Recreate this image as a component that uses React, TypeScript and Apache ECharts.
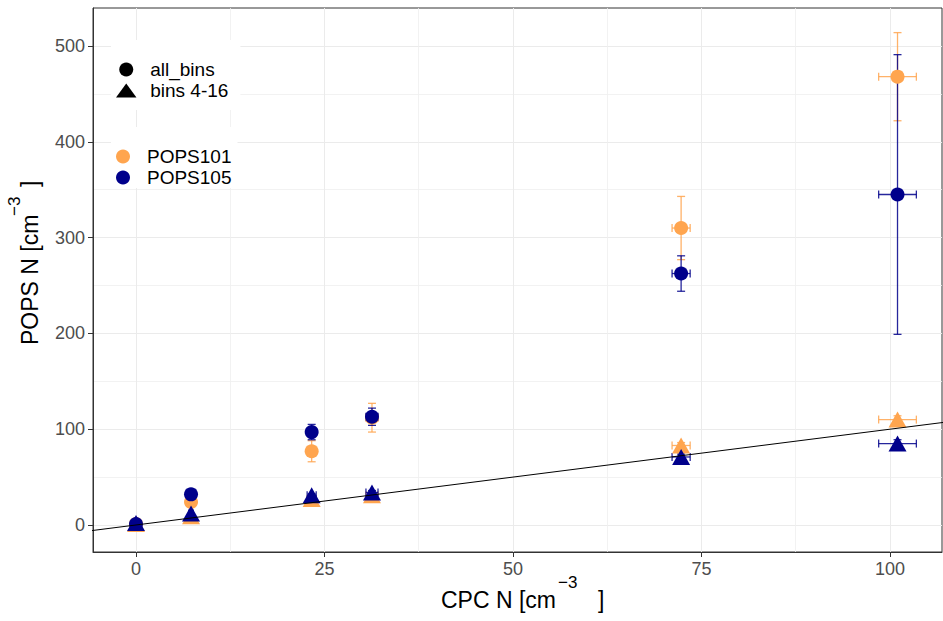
import React, { useEffect, useRef } from "react";
import * as echarts from "echarts";

// ---- data ----
const cpcN = [0, 7.3, 23.3, 31.3, 72.3, 101];
const cpcErr = [0.2, 0.3, 0.6, 0.8, 1.2, 2.5];
const pops101All = [1, 24, 77, 112, 310, 468];
const pops101AllErr = [0.5, 2, 11, 15, 33, 46];
const pops105All = [1, 32, 97, 113, 262.5, 345];
const pops105AllErr = [0.5, 3, 8, 9, 18.5, 146];
const pops101Bins = [1, 9, 27, 31, 83, 110];
const pops101BinsErr = [0.3, 0.8, 1.5, 2, 3, 4];
const pops105Bins = [2, 12, 31, 34, 71, 85];
const pops105BinsErr = [0.3, 0.8, 1.5, 2, 3, 4];
const oneToOne = [-10, 120];
const xMajor = [0, 25, 50, 75, 100];
const xMinor = [12.5, 37.5, 62.5, 87.5];
const yMajor = [0, 100, 200, 300, 400, 500];
const yMinor = [50, 150, 250, 350, 450];
const legendShapes = ["all_bins", "bins 4-16"];
const legendInstruments = ["POPS101", "POPS105"];
const xTitle = ["CPC N [cm", "−3", "]"];
const yTitle = ["POPS N [cm", "−3", "]"];

const X_MIN = -5.7;
const X_MAX = 106.9;
const Y_MIN = -28.2;
const Y_MAX = 539.7;

const ORANGE = "#FFA54F";
const NAVY = "#00008B";
const FONT = "'Liberation Sans', Arial, Helvetica, sans-serif";

function errorBars(name: string, ys: number[], yErr: number[], color: string, opacity: number) {
  return {
    type: "custom",
    name,
    xAxisIndex: 1,
    yAxisIndex: 1,
    clip: true,
    silent: true,
    data: cpcN.map((x, i) => [x, ys[i], cpcErr[i], yErr[i]]),
    renderItem: (params: any, api: any) => {
      const x = api.value(0);
      const y = api.value(1);
      const ex = api.value(2);
      const ey = api.value(3);
      const top = api.coord([x, y + ey]);
      const bot = api.coord([x, y - ey]);
      const l = api.coord([x - ex, y]);
      const r = api.coord([x + ex, y]);
      const cap = 4;
      const style = { stroke: color, lineWidth: 1.3, opacity };
      const children: any[] = [];
      if (bot[1] - top[1] > 2) {
        children.push({ type: "line", shape: { x1: top[0], y1: top[1], x2: bot[0], y2: bot[1] }, style });
        children.push({ type: "line", shape: { x1: top[0] - cap, y1: top[1], x2: top[0] + cap, y2: top[1] }, style });
        children.push({ type: "line", shape: { x1: bot[0] - cap, y1: bot[1], x2: bot[0] + cap, y2: bot[1] }, style });
      }
      if (r[0] - l[0] > 2) {
        children.push({ type: "line", shape: { x1: l[0], y1: l[1], x2: r[0], y2: r[1] }, style });
        children.push({ type: "line", shape: { x1: l[0], y1: l[1] - cap, x2: l[0], y2: l[1] + cap }, style });
        children.push({ type: "line", shape: { x1: r[0], y1: r[1] - cap, x2: r[0], y2: r[1] + cap }, style });
      }
      return { type: "group", children };
    },
  };
}

function points(name: string, ys: number[], symbol: string, size: any, color: string) {
  return {
    type: "scatter",
    name,
    xAxisIndex: 1,
    yAxisIndex: 1,
    symbol,
    symbolSize: size,
    itemStyle: { color, opacity: 1 },
    emphasis: { disabled: true },
    data: cpcN.map((x, i) => [x, ys[i]]),
  };
}

const legendText = { fontSize: 19, color: "#000", fontFamily: FONT, lineHeight: 19 };

const legendCommon = {
  orient: "vertical",
  left: 111,
  itemWidth: 38,
  itemHeight: 14,
  itemGap: 2,
  backgroundColor: "#fff",
  selectedMode: false,
  symbolKeepAspect: true,
  textStyle: legendText,
};

function titleText(text: string, size: number, x: number, y: number, rotation = 0) {
  return {
    type: "text",
    x,
    y,
    rotation,
    silent: true,
    style: {
      text,
      fontSize: size,
      fontFamily: FONT,
      fill: "#000",
      textAlign: "left",
      textVerticalAlign: "middle",
    },
  };
}

export default function App() {
  const ref = useRef<HTMLDivElement>(null);
  useEffect(() => {
    if (!ref.current) return;
    const chart = echarts.init(ref.current, undefined, { renderer: "svg" });
    const R = Math.PI / 2;
    const option: any = {
      animation: false,
      backgroundColor: "#fff",
      grid: {
        left: 93,
        right: 1,
        top: 8,
        bottom: 69,
        show: true,
        borderColor: "#333333",
        borderWidth: 1,
        backgroundColor: "transparent",
        containLabel: false,
        outerBoundsMode: "none",
      },
      graphic: [
        titleText(xTitle[0], 23, 441, 600),
        titleText(xTitle[1], 17, 558, 582),
        titleText(xTitle[2], 23, 598, 600),
        titleText(yTitle[0], 23, 30, 345, R),
        titleText(yTitle[1], 17, 14, 216, R),
        titleText(yTitle[2], 23, 30, 187, R),
      ],
      xAxis: [
        {
          type: "value",
          min: X_MIN,
          max: X_MAX,
          position: "bottom",
          axisLine: { show: false },
          axisTick: { show: false, customValues: xMinor },
          axisLabel: { show: false, customValues: xMinor },
          splitLine: { show: true, lineStyle: { color: "#EFEFEF", width: 0.8 } },
        },
        {
          type: "value",
          min: X_MIN,
          max: X_MAX,
          position: "bottom",
          axisLine: { show: true, onZero: false, lineStyle: { color: "#333333", width: 1 } },
          axisTick: { show: true, length: 5, customValues: xMajor, lineStyle: { color: "#333333" } },
          axisLabel: { customValues: xMajor, margin: 8, fontSize: 18, color: "#4D4D4D", fontFamily: FONT },
          splitLine: { show: true, lineStyle: { color: "#EBEBEB", width: 1 } },
        },
      ],
      yAxis: [
        {
          type: "value",
          min: Y_MIN,
          max: Y_MAX,
          position: "left",
          axisLine: { show: false },
          axisTick: { show: false, customValues: yMinor },
          axisLabel: { show: false, customValues: yMinor },
          splitLine: { show: true, lineStyle: { color: "#EFEFEF", width: 0.8 } },
        },
        {
          type: "value",
          min: Y_MIN,
          max: Y_MAX,
          position: "left",
          axisLine: { show: true, onZero: false, lineStyle: { color: "#333333", width: 1 } },
          axisTick: { show: true, length: 5, customValues: yMajor, lineStyle: { color: "#333333" } },
          axisLabel: { customValues: yMajor, margin: 8, fontSize: 18, color: "#4D4D4D", fontFamily: FONT },
          splitLine: { show: true, lineStyle: { color: "#EBEBEB", width: 1 } },
        },
      ],
      legend: [
        {
          ...legendCommon,
          data: [
            { name: legendShapes[0], icon: "circle" },
            { name: legendShapes[1], icon: "path://M0,13L9.5,0L19,13Z" },
          ],
          top: 40,
          padding: [20, 12, 10, 5],
        },
        {
          ...legendCommon,
          data: [
            { name: legendInstruments[0], icon: "circle" },
            { name: legendInstruments[1], icon: "circle" },
          ],
          top: 127,
          padding: [20, 6, 1, 5],
        },
      ],
      series: [
        {
          type: "line",
          name: "1:1",
          xAxisIndex: 1,
          yAxisIndex: 1,
          data: oneToOne.map((v) => [v, v]),
          symbol: "none",
          clip: true,
          silent: true,
          lineStyle: { color: "#000", width: 1 },
        },
        points("POPS101 all_bins", pops101All, "circle", 14, ORANGE),
        points("POPS101 bins 4-16", pops101Bins, "triangle", [18, 16], ORANGE),
        errorBars("POPS101 err all", pops101All, pops101AllErr, ORANGE, 0.85),
        errorBars("POPS101 err bins", pops101Bins, pops101BinsErr, ORANGE, 0.85),
        points("POPS105 all_bins", pops105All, "circle", 14, NAVY),
        points("POPS105 bins 4-16", pops105Bins, "triangle", [18, 16], NAVY),
        errorBars("POPS105 err all", pops105All, pops105AllErr, NAVY, 0.85),
        errorBars("POPS105 err bins", pops105Bins, pops105BinsErr, NAVY, 0.85),
        // legend-only entries
        { type: "scatter", name: "all_bins", symbol: "circle", symbolKeepAspect: true, xAxisIndex: 1, yAxisIndex: 1, itemStyle: { color: "#000", opacity: 1 }, data: [] },
        { type: "scatter", name: "bins 4-16", symbol: "triangle", symbolKeepAspect: true, xAxisIndex: 1, yAxisIndex: 1, itemStyle: { color: "#000", opacity: 1 }, data: [] },
        { type: "scatter", name: "POPS101", symbol: "circle", symbolKeepAspect: true, xAxisIndex: 1, yAxisIndex: 1, itemStyle: { color: ORANGE, opacity: 1 }, data: [] },
        { type: "scatter", name: "POPS105", symbol: "circle", symbolKeepAspect: true, xAxisIndex: 1, yAxisIndex: 1, itemStyle: { color: NAVY, opacity: 1 }, data: [] },
      ],
    };
    chart.setOption(option);
    return () => chart.dispose();
  }, []);
  return (
    <div
      ref={ref}
      style={{ position: "absolute", left: 0, top: 0, width: 943, height: 621 }}
    />
  );
}
